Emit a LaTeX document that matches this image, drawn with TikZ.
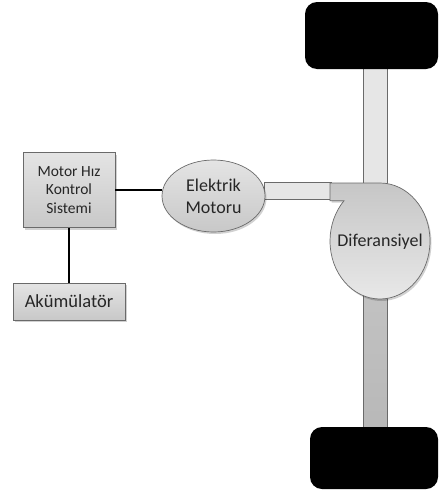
\documentclass[tikz,border=0pt]{standalone}
\usepackage{fontspec}
\setmainfont{Carlito}
\usetikzlibrary{shapes.geometric,shadows}
\definecolor{edge}{HTML}{6A6A6A}
\definecolor{boxtop}{HTML}{E4E4E4}
\definecolor{boxbot}{HTML}{C8C8C8}
\definecolor{txt}{HTML}{262626}
\definecolor{axlelight}{HTML}{E6E6E6}
\definecolor{axledark}{HTML}{C2C2C2}
\definecolor{diftop}{HTML}{C6C6C6}
\definecolor{difbot}{HTML}{E8E8E8}
\begin{document}
\begin{tikzpicture}[x=1pt,y=1pt,
  shade/.style={drop shadow={shadow xshift=1.5pt,shadow yshift=-2pt,fill=black,opacity=0.18}},
  box/.style={draw=edge,line width=0.7pt,top color=boxtop,bottom color=boxbot,
    inner sep=0pt,align=center,text=txt,shade},
  motorbox/.style={box,ellipse},
  axle/.style={draw=edge,line width=0.7pt},
  wheel/.style={fill=black,rounded corners=12pt},
  conn/.style={draw=black,line width=1.6pt},
  lbl/.style={text=txt,inner sep=0pt,align=center}]
\useasboundingbox (0,0) rectangle (439,-490);
% axles
\draw[axle,fill=axlelight] (363,-68) rectangle (387,-192);
\draw[axle,top color=axledark,bottom color=axledark!95!black] (363,-290) rectangle (387,-428);
% wheels
\fill[wheel] (305,-2) rectangle (438,-69);
\fill[wheel] (310,-427) rectangle (438,-489);
% shaft
\node[axle,fill=axlelight,minimum width=67pt,minimum height=17pt,inner sep=0pt] (shaft) at (297.5,-190.5) {};
% differential
\path[draw=edge,line width=0.7pt,top color=diftop,bottom color=difbot,shade]
  (330,-200.7) -- (330,-183) -- (380,-183)
  arc[start angle=90,end angle=-224,x radius=50pt,y radius=58pt] -- cycle;
\node[lbl,font=\fontsize{18}{21}\selectfont] (dif) at (380,-242) {Diferansiyel};
% blocks
\node[box,minimum width=92pt,minimum height=75pt,font=\fontsize{15.5}{18.7}\selectfont]
  (mhk) at (69,-190) {Motor Hız\\Kontrol\\Sistemi};
\node[box,minimum width=112pt,minimum height=37pt,font=\fontsize{18.5}{22}\selectfont]
  (aku) at (69,-301.5) {Akümülatör};
\node[motorbox,minimum width=103pt,minimum height=72pt,font=\fontsize{18}{21.7}\selectfont]
  (em) at (213.5,-196) {Elektrik\\Motoru};
% connectors
\draw[conn] (mhk.east) -- (mhk.east -| em.west);
\draw[conn] (mhk.south) -- (aku.north);
\end{tikzpicture}
\end{document}
